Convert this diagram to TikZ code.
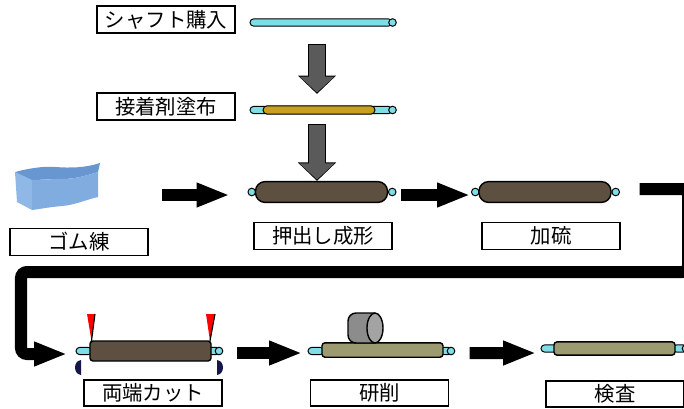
\documentclass[tikz,border=0pt]{standalone}
\usepackage{fontspec}
\setmainfont{Noto Sans CJK JP}
\usetikzlibrary{arrows.meta, calc, backgrounds}

\definecolor{shaftcyan}{RGB}{125,222,232}
\definecolor{rubberbrown}{RGB}{94,80,64}
\definecolor{gluegold}{RGB}{200,160,32}
\definecolor{groundolive}{RGB}{155,154,112}
\definecolor{feedgray}{RGB}{90,90,90}
\definecolor{wheelgray}{RGB}{140,140,140}
\definecolor{holdernavy}{RGB}{22,22,72}
\definecolor{compoundtop}{RGB}{104,150,208}
\definecolor{compoundside}{RGB}{144,184,230}
\definecolor{compoundfront}{RGB}{128,172,224}

\tikzset{
    stepname/.style={rectangle, draw=black, line width=1pt, minimum width=3.45cm, minimum height=0.68cm, inner sep=0pt, font=\fontsize{14.5}{16}\selectfont},
    rod/.style={rectangle, rounded corners=0.09cm, draw=black, line width=0.7pt, fill=shaftcyan, minimum height=0.18cm, inner sep=0pt},
    endcap/.style={circle, draw=black, line width=0.7pt, fill=shaftcyan, minimum size=0.19cm, inner sep=0pt},
    roll/.style={rectangle, draw=black, line width=1pt, inner sep=0pt},
    flow/.style={line width=0.3cm, -{Triangle[length=0.83cm, width=0.56cm]}},
    feedline/.style={line width=0.45cm, draw=black, -{Triangle[length=0.46cm, width=0.93cm]}},
    feed/.style={line width=0.4cm, draw=feedgray, -{Triangle[length=0.4cm, width=0.85cm]}}
}

\begin{document}
\begin{tikzpicture}[x=0.025cm, y=-0.025cm]
    \useasboundingbox (0,0) rectangle (684,408);

    % Shaft and adhesive
    \node (buy) [stepname] at (166,19.5) {シャフト購入};
    \node (buyrod) [rod, minimum width=3.55cm] at (321,22.5) {};
    \node [endcap] at (buyrod.east) {};

    \node (glue) [stepname] at (166,106.5) {接着剤塗布};
    \node (gluerod) [rod, minimum width=3.55cm] at (321,110) {};
    \node [endcap] at (gluerod.east) {};
    \node [rod, fill=gluegold, minimum width=2.8cm, minimum height=0.21cm, rounded corners=0.105cm] at (319,110) {};

    % Compound block
    \node (rubber) [minimum width=2.15cm, minimum height=1.2cm, inner sep=0pt] at (57,187) {};
    \fill[compoundside] (15,172) -- (32,180) -- (32,210) -- (17,202) -- cycle;
    \fill[compoundtop] (15,172) .. controls (30,168) and (45,166) .. (55,167)
        .. controls (70,168) and (85,168) .. (100,163) -- (98,172)
        .. controls (85,176) and (75,179) .. (62,179)
        .. controls (50,179) and (40,180) .. (32,180) -- cycle;
    \fill[compoundfront] (32,180) .. controls (40,180) and (50,179) .. (62,179)
        .. controls (75,179) and (85,176) .. (98,172) -- (98,197)
        .. controls (85,200) and (75,205) .. (62,206)
        .. controls (50,207) and (40,209) .. (32,210) -- cycle;
    \node (mix) [stepname] at (79,242) {ゴム練};

    % Extrusion and vulcanising
    \node (ext) [roll, fill=rubberbrown, rounded corners=0.24cm, minimum width=3.3cm, minimum height=0.52cm] at (321.5,192) {};
    \node (cure) [roll, fill=rubberbrown, rounded corners=0.24cm, minimum width=3.3cm, minimum height=0.52cm] at (545,192) {};
    \begin{scope}[on background layer]
        \node [endcap] at ($(ext.west)+(-3,0)$) {};
        \node [endcap] at ($(ext.east)+(4,0)$) {};
        \node [endcap] at ($(cure.west)+(-3,0)$) {};
        \node [endcap] at ($(cure.east)+(4,0)$) {};
    \end{scope}
    \node (extname) [stepname] at (323,236) {押出し成形};
    \node (curename) [stepname] at (551,236) {加硫};

    % End cutting
    \node [rod, minimum width=0.4cm] at (84,351) {};
    \node [rod, minimum width=0.3cm] at (214,351) {};
    \node [endcap] at (219,351) {};
    \node (cut) [roll, fill=rubberbrown, rounded corners=0.075cm, minimum width=3.025cm, minimum height=0.5cm] at (150.5,351) {};
    \fill[red] (87,314) -- (95,314) -- (91.5,341) -- cycle;
    \draw[line width=0.8pt] (95,314) -- (91.5,341);
    \fill[red] (206,314) -- (215,314) -- (210,341) -- cycle;
    \draw[line width=0.8pt] (215,314) -- (210,341);
    \fill[holdernavy] (81,360) .. controls (73,361) and (73,374) .. (81,375) -- cycle;
    \fill[holdernavy] (217,360) .. controls (225,361) and (225,374) .. (217,375) -- cycle;
    \node (cutname) [stepname, minimum height=0.65cm] at (153,393) {両端カット};

    % Grinding
    \node [rod, minimum width=0.4cm] at (316,351) {};
    \node [rod, minimum width=0.3cm] at (446,351) {};
    \node [endcap] at (451,351) {};
    \node (grind) [roll, fill=groundolive, rounded corners=0.075cm, minimum width=3.025cm, minimum height=0.36cm] at (382.5,350) {};
    \draw[fill=wheelgray, line width=1pt, rounded corners=0.2cm] (375,313) -- (348,313) -- (348,343) -- (375,343);
    \draw[fill=wheelgray!80, line width=1pt] (375,328) ellipse [x radius=0.2cm, y radius=0.375cm];
    \node (grindname) [stepname, minimum height=0.65cm] at (379.5,393) {研削};

    % Inspection
    \node [rod, minimum width=0.4cm] at (549,348.5) {};
    \node [rod, minimum width=0.35cm] at (680,348.5) {};
    \node [endcap] at (686,348.5) {};
    \node (check) [roll, fill=groundolive, rounded corners=0.075cm, minimum width=3.025cm, minimum height=0.33cm] at (614.5,348.5) {};
    \node (checkname) [stepname, minimum height=0.65cm] at (615,394) {検査};

    % Gray feed arrows
    \draw[feedline] ($(buyrod.south)+(-4,17)$) -- ($(gluerod.north)+(-4,-12)$);
    \draw[feed, shorten <=0.025cm, shorten >=0.035cm] ($(buyrod.south)+(-4,17)$) -- ($(gluerod.north)+(-4,-12)$);
    \draw[feedline] ($(gluerod.south)+(-4,10)$) -- ($(ext.north)+(-4.5,0)$);
    \draw[feed, shorten <=0.025cm, shorten >=0.035cm] ($(gluerod.south)+(-4,10)$) -- ($(ext.north)+(-4.5,0)$);

    % Process flow
    \draw[flow] ($(rubber.east)+(62,8)$) -- ($(ext.west)+(-25,3)$);
    \draw[flow] ($(ext.east)+(13,3)$) -- ($(cure.west)+(-8,3)$);
    \draw[flow, rounded corners=0.15cm] ($(cure.east)+(28,-3)$) -- (688,189) -- (688,272)
        -- (21,272) -- (21,354) -- ($(cut.west)+(-22,3)$);
    \draw[flow] ($(cut.east)+(25,2)$) -- ($(grind.west)+(-19,3)$);
    \draw[flow] ($(grind.east)+(26,3)$) -- ($(check.west)+(-17,4.5)$);
\end{tikzpicture}
\end{document}
